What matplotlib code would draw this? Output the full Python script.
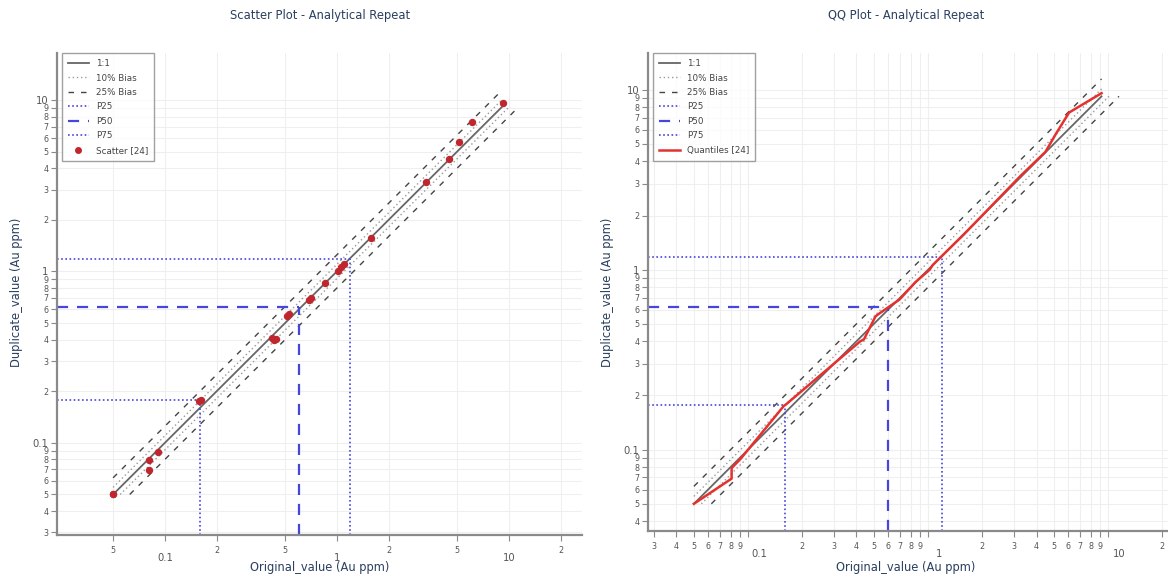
import matplotlib
matplotlib.use("Agg")
import matplotlib.pyplot as plt
from matplotlib.ticker import FixedLocator, FuncFormatter
from matplotlib.transforms import ScaledTranslation
from matplotlib.lines import Line2D
import numpy as np

# Au repeat assays (ppm)
original = [0.05, 0.05, 0.081, 0.081, 0.091, 0.158, 0.162, 0.42, 0.43, 0.44, 0.51, 0.528,
            0.69, 0.71, 0.851, 1.02, 1.06, 1.1, 1.58, 3.28, 4.48, 5.14, 6.07, 9.19]
duplicate = [0.05, 0.05, 0.069, 0.079, 0.089, 0.175, 0.178, 0.41, 0.40, 0.405, 0.55, 0.565,
             0.68, 0.70, 0.853, 1.0, 1.06, 1.1, 1.57, 3.34, 4.51, 5.71, 7.47, 9.57]

# percentiles (original, duplicate)
p_names = ["P25", "P50", "P75"]
p_orig = [0.16, 0.60, 1.19]
p_dup = [0.177, 0.62, 1.18]

bias10 = 0.10
bias25 = 0.25

# tick positions
decades = [0.1, 1, 10]
scatter_xminor = [0.05, 0.2, 0.5, 2, 5, 20]
scatter_yminor = [0.03, 0.04, 0.05, 0.06, 0.07, 0.08, 0.09,
                  0.2, 0.3, 0.4, 0.5, 0.6, 0.7, 0.8, 0.9,
                  2, 3, 4, 5, 6, 7, 8, 9]
qq_xminor = [0.03, 0.04, 0.05, 0.06, 0.07, 0.08, 0.09,
             0.2, 0.3, 0.4, 0.5, 0.6, 0.7, 0.8, 0.9,
             2, 3, 4, 5, 6, 7, 8, 9, 20]
qq_yminor = [0.04, 0.05, 0.06, 0.07, 0.08, 0.09,
             0.2, 0.3, 0.4, 0.5, 0.6, 0.7, 0.8, 0.9,
             2, 3, 4, 5, 6, 7, 8, 9]

title_color = "#2a3f5f"
tick_color = "#555555"
axis_color = "#8a8a8a"
grid_color = "#efefef"
blue = "#4646dc"
red_pt = "#c0262d"
red_line = "#e4312f"

plt.rcParams["font.family"] = ["DejaVu Sans"]

fig = plt.figure(figsize=(11.68, 5.76), dpi=100)
W, H = 1168, 576


def digit(v, pos=None):
    e = np.floor(np.log10(v) + 1e-9)
    return "%d" % round(v / 10 ** e)


def decade(v, pos=None):
    return "%g" % v


def style_axis(ax, xlim, ylim, xminor, yminor):
    ax.set_xscale("log")
    ax.set_yscale("log")
    ax.set_xlim(*xlim)
    ax.set_ylim(*ylim)
    for axis, minor in ((ax.xaxis, xminor), (ax.yaxis, yminor)):
        axis.set_major_locator(FixedLocator(decades))
        axis.set_major_formatter(FuncFormatter(decade))
        axis.set_minor_locator(FixedLocator(minor))
        axis.set_minor_formatter(FuncFormatter(digit))
    ax.tick_params(which="both", direction="out", length=4, width=0.8,
                   color=axis_color, labelcolor=tick_color)
    ax.tick_params(which="major", labelsize=7.2)
    ax.tick_params(which="minor", labelsize=5.8)
    ax.tick_params(axis="x", which="major", pad=9)
    ax.tick_params(axis="x", which="minor", pad=4)
    ax.tick_params(axis="y", which="both", pad=2)
    ax.grid(which="both", color=grid_color, lw=0.8)
    ax.set_axisbelow(True)
    for s in ("top", "right"):
        ax.spines[s].set_visible(False)
    for s in ("left", "bottom"):
        ax.spines[s].set_color(axis_color)
        ax.spines[s].set_linewidth(1.6)


def reference_lines(ax, xs, ylim, xlim):
    lo, hi = min(xs), max(xs)
    ax.plot([lo, hi], [lo, hi], color="#666666", lw=1.3, zorder=2)
    for b, style, col, lw in ((bias10, (0, (1, 2)), "#9a9a9a", 1.0),
                              (bias25, (0, (4, 5)), "#444444", 1.0)):
        f = 1 + b
        ax.plot([lo, hi], [lo * f, hi * f], color=col, ls=style, lw=lw, zorder=2)
        ax.plot([lo * f, hi * f], [lo, hi], color=col, ls=style, lw=lw, zorder=2)
    p_styles = [((0, (1, 1.5)), 1.2), ((0, (5, 4)), 1.6), ((0, (1, 1.5)), 1.2)]
    for px, py, (ls, lw) in zip(p_orig, p_dup, p_styles):
        ax.plot([px, px], [ylim[0], py], color=blue, ls=ls, lw=lw, zorder=2)
        ax.plot([xlim[0], px], [py, py], color=blue, ls=ls, lw=lw, zorder=2)


def legend_handles(last):
    h = [Line2D([], [], color="#666666", lw=1.3),
         Line2D([], [], color="#9a9a9a", ls=(0, (1, 2)), lw=1.0),
         Line2D([], [], color="#444444", ls=(0, (4, 5)), lw=1.0),
         Line2D([], [], color=blue, ls=(0, (1, 1.5)), lw=1.2),
         Line2D([], [], color=blue, ls=(0, (5, 4)), lw=1.6),
         Line2D([], [], color=blue, ls=(0, (1, 1.5)), lw=1.2),
         last]
    labels = ["1:1", "10% Bias", "25% Bias"] + p_names
    return h, labels


def add_legend(ax, last, label):
    h, labels = legend_handles(last)
    leg = ax.legend(h, labels + [label], loc="upper left", bbox_to_anchor=(0.009, 1.0),
                    fontsize=6.3, frameon=True, fancybox=False, borderaxespad=0,
                    handlelength=2.4, handletextpad=0.8, labelspacing=0.62,
                    borderpad=0.7, labelcolor="#444444")
    leg.get_frame().set_edgecolor("#8a8a8a")
    leg.get_frame().set_linewidth(1.0)


# scatter plot
ax1 = fig.add_axes([57 / W, 1 - 535 / H, 525 / W, 482 / H])
xlim1 = (0.0236, 26.6)
ylim1 = (0.029, 18.8)
style_axis(ax1, xlim1, ylim1, scatter_xminor, scatter_yminor)
reference_lines(ax1, original, ylim1, xlim1)
ax1.plot(original, duplicate, "o", color=red_pt, ms=4.3, mec=red_pt, zorder=4)
add_legend(ax1, Line2D([], [], marker="o", ls="", color=red_pt, ms=4),
           "Scatter [%d]" % len(original))

# QQ plot
ax2 = fig.add_axes([648 / W, 1 - 531 / H, 520 / W, 478 / H])
xlim2 = (0.0278, 21.5)
ylim2 = (0.0353, 16.0)
style_axis(ax2, xlim2, ylim2, qq_xminor, qq_yminor)
reference_lines(ax2, original, ylim2, xlim2)
ax2.plot(sorted(original), sorted(duplicate), color=red_line, lw=1.8, zorder=4)
add_legend(ax2, Line2D([], [], color=red_line, lw=1.8),
           "Quantiles [%d]" % len(original))

# decade labels sit right of their tick when every digit is labelled
shift = ScaledTranslation(11 / 100, 0, fig.dpi_scale_trans)
for lab in ax2.xaxis.get_majorticklabels():
    lab.set_transform(lab.get_transform() + shift)

# titles and axis labels
for cx, ylab_x, title in ((320, 17, "Scatter Plot - Analytical Repeat"),
                          (906, 607, "QQ Plot - Analytical Repeat")):
    fig.text(cx / W, 1 - 16 / H, title, ha="center", va="center",
             fontsize=8.3, color=title_color)
    fig.text(cx / W, 1 - 568 / H, "Original_value (Au ppm)", ha="center",
             va="center", fontsize=8.3, color=title_color)
    fig.text(ylab_x / W, 1 - 292 / H, "Duplicate_value (Au ppm)", ha="center",
             va="center", rotation=90, fontsize=8.3, color=title_color)

fig.savefig("out.png", dpi=100)
